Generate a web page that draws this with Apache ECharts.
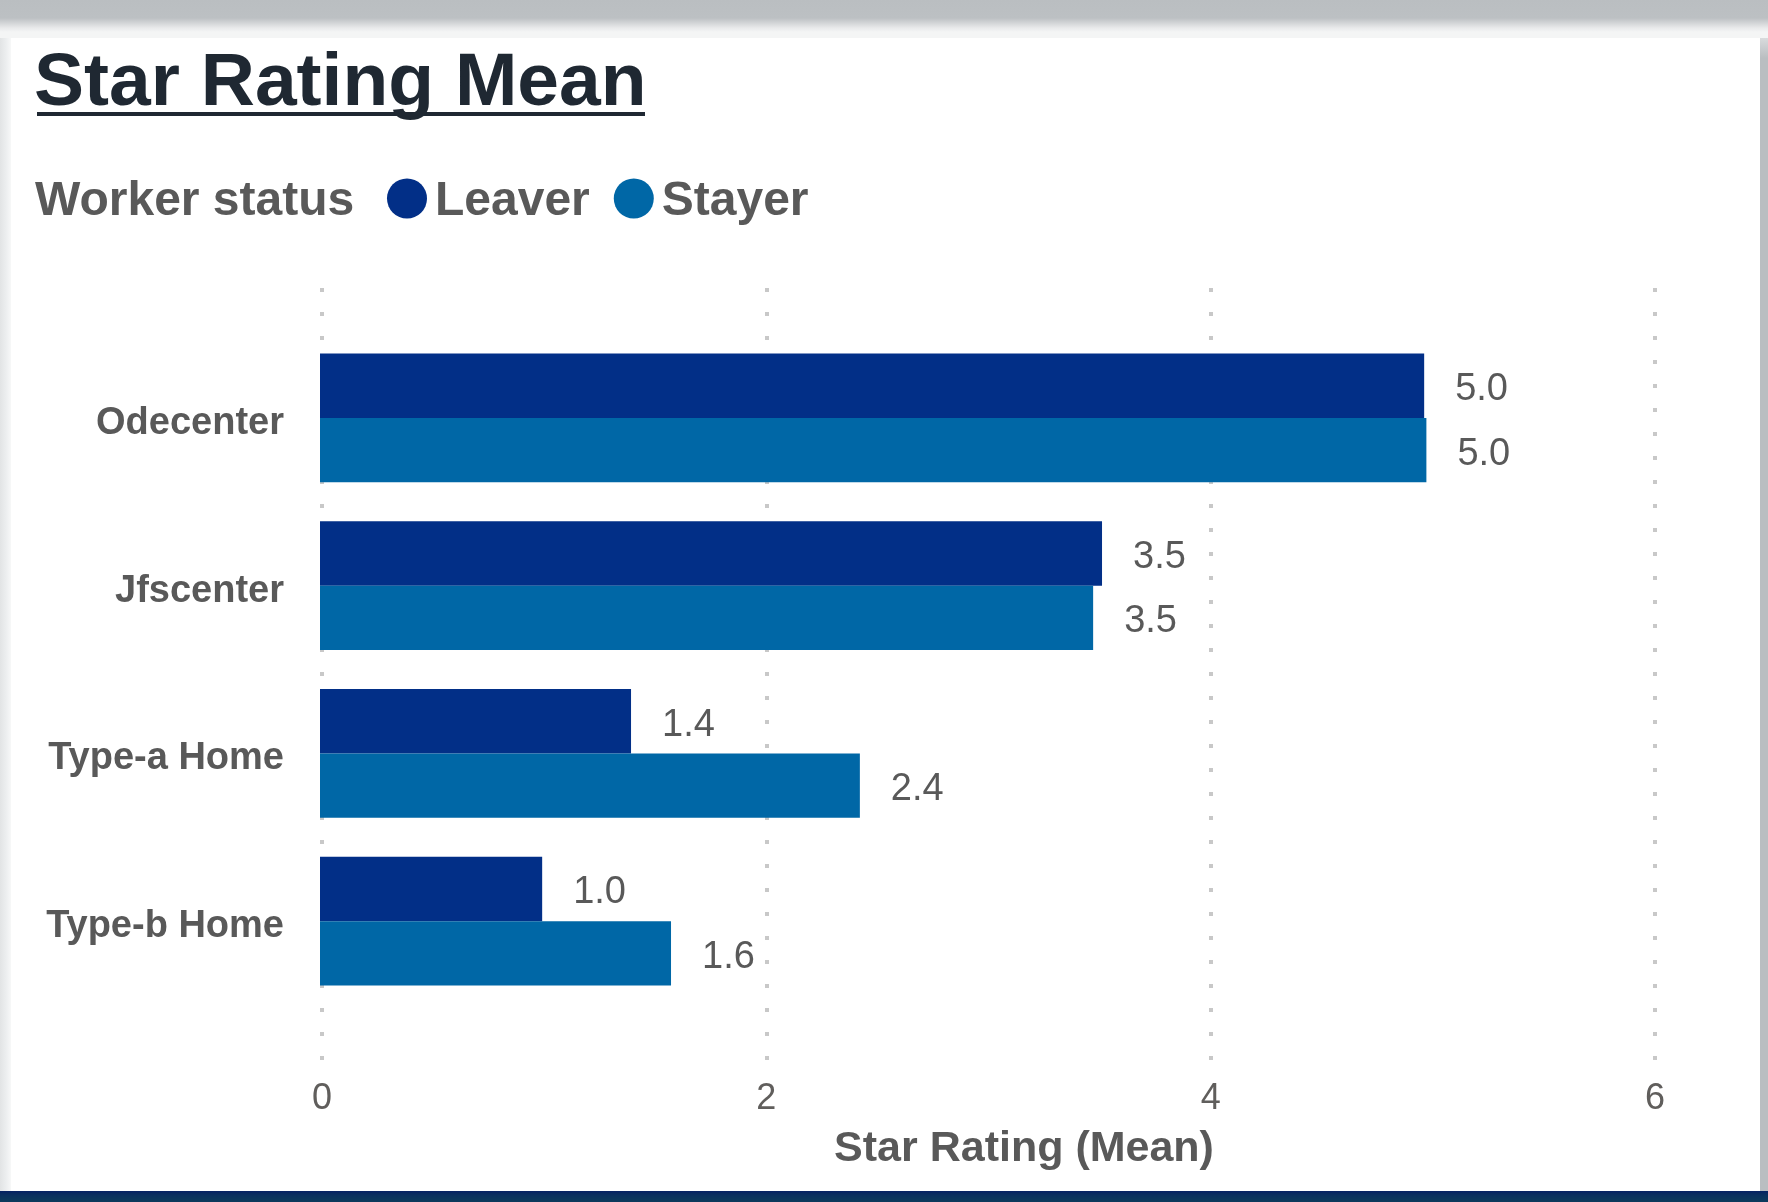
<!DOCTYPE html>
<html>
<head>
<meta charset="utf-8">
<title>Star Rating Mean</title>
<script src="https://cdn.jsdelivr.net/npm/echarts@6/dist/echarts.min.js"></script>
<style>
  html, body { margin: 0; padding: 0; background: #ffffff; }
  #wrap { position: relative; width: 1768px; height: 1202px; overflow: hidden; background: #ffffff; }
  #chart { position: absolute; left: 0; top: 0; width: 1768px; height: 1202px; }
  .band { position: absolute; pointer-events: none; }
  #bandTop { left: 0; top: 0; width: 1768px; height: 38px;
    background: linear-gradient(to bottom, #babec1 0px, #bcc0c3 18px, #e9eaeb 28px, #f4f5f5 32px, #f4f5f5 38px); }
  #bandLeft { left: 0; top: 38px; width: 11px; height: 1153px;
    background: linear-gradient(to right, #e2e4e5 0px, #eceeef 6px, #f7f8f8 11px); }
  #bandRight { left: 1760px; top: 38px; width: 8px; height: 1153px;
    background: linear-gradient(to bottom, #d9dbdd 0px, #babec1 20px, #babec1 100%); }
  #bandBottom { left: 0; top: 1191px; width: 1768px; height: 11px;
    background: linear-gradient(to bottom, #062163 0px, #0a2f5e 4px, #0c3a5c 11px); }
</style>
</head>
<body>
<div id="wrap">
  <div id="chart"></div>
  <div class="band" id="bandTop"></div>
  <div class="band" id="bandLeft"></div>
  <div class="band" id="bandRight"></div>
  <div class="band" id="bandBottom"></div>
</div>
<script>
// Mean star rating per workplace type, split by worker status
const categories = ['Odecenter', 'Jfscenter', 'Type-a Home', 'Type-b Home'];
const leaverValues = [4.97, 3.52, 1.40, 1.00];
const stayerValues = [4.98, 3.48, 2.43, 1.58];
const seriesNames = ['Leaver', 'Stayer'];
const axisTicks = [0, 2, 4, 6];

const FONT = "'Liberation Sans', Arial, Helvetica, sans-serif";
const LABEL_GREY = '#595959';
const COLORS = ['#022f87', '#0067a6'];

const chart = echarts.init(document.getElementById('chart'), null, { renderer: 'canvas' });

const valueLabel = {
  show: true,
  position: 'right',
  distance: 31,
  offset: [0, 4],
  fontFamily: FONT,
  fontSize: 38,
  color: LABEL_GREY,
  formatter: p => p.value.toFixed(1)
};

const option = {
  animation: false,
  color: COLORS,
  title: [
    {
      text: 'Star Rating Mean',
      left: 34, top: 47, padding: 0,
      textStyle: { fontFamily: FONT, fontSize: 75, fontWeight: 'bold', color: '#1f2832' }
    },
    {
      text: 'Worker status',
      left: 35, top: 178, padding: 0,
      textStyle: { fontFamily: FONT, fontSize: 48, fontWeight: 'bold', color: LABEL_GREY }
    }
  ],
  graphic: [
    // underline beneath the heading
    { type: 'rect', left: 37, top: 112, shape: { width: 608, height: 4 }, style: { fill: '#1f2832' }, silent: true }
  ],
  legend: {
    data: seriesNames,
    left: 387, top: 178, padding: 0,
    icon: 'circle',
    itemWidth: 40, itemHeight: 40, itemGap: 24,
    formatter: name => '{t|' + name + '}',
    textStyle: {
      fontFamily: FONT, fontSize: 48, fontWeight: 'bold', color: LABEL_GREY,
      rich: { t: { fontFamily: FONT, fontSize: 48, fontWeight: 'bold', color: LABEL_GREY, padding: [7, 0, 0, 3] } }
    }
  },
  grid: [
    // bars
    { left: 320, right: 115, top: 334, bottom: 197, containLabel: false },
    // dotted gridlines and tick labels
    { left: 322, right: 113, top: 288, bottom: 142, containLabel: false }
  ],
  xAxis: [
    {
      gridIndex: 0, type: 'value', min: axisTicks[0], max: axisTicks[axisTicks.length - 1], interval: 2,
      show: false
    },
    {
      gridIndex: 1, type: 'value', min: axisTicks[0], max: axisTicks[axisTicks.length - 1], interval: 2,
      axisLine: { show: false }, axisTick: { show: false },
      splitLine: { show: true, lineStyle: { color: '#c8c8c8', width: 4, type: [4, 20], cap: 'butt' } },
      axisLabel: { margin: 21, fontFamily: FONT, fontSize: 36, color: '#605e5c' },
      name: 'Star Rating (Mean)',
      nameLocation: 'middle',
      nameGap: 68,
      nameTextStyle: { fontFamily: FONT, fontSize: 43, fontWeight: 'bold', color: LABEL_GREY, padding: [0, 0, 0, 71] }
    }
  ],
  yAxis: [
    {
      gridIndex: 0, type: 'category', data: categories, inverse: true,
      axisLine: { show: false }, axisTick: { show: false }, splitLine: { show: false },
      axisLabel: {
        margin: 36, fontFamily: FONT, fontSize: 38, fontWeight: 'bold', color: LABEL_GREY,
        formatter: value => '{c|' + value + '}',
        rich: { c: { fontFamily: FONT, fontSize: 38, fontWeight: 'bold', color: LABEL_GREY, padding: [11, 0, 0, 0] } }
      }
    },
    { gridIndex: 1, type: 'value', show: false }
  ],
  series: [
    {
      name: seriesNames[0], type: 'bar', xAxisIndex: 0, yAxisIndex: 0,
      data: leaverValues, barGap: '0%', barCategoryGap: '23.1%',
      itemStyle: { color: COLORS[0] },
      label: valueLabel
    },
    {
      name: seriesNames[1], type: 'bar', xAxisIndex: 0, yAxisIndex: 0,
      data: stayerValues, barGap: '0%', barCategoryGap: '23.1%',
      itemStyle: { color: COLORS[1] },
      label: valueLabel
    }
  ]
};

chart.setOption(option);
</script>
</body>
</html>
